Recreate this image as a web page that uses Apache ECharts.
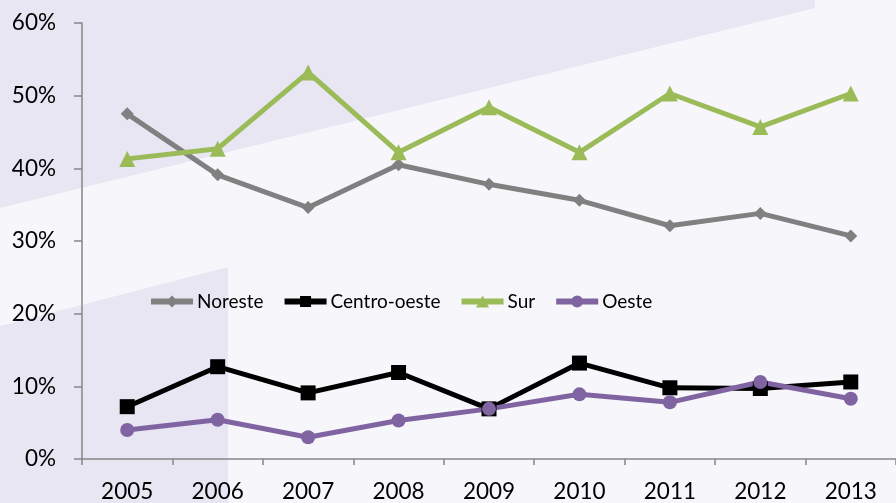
<!DOCTYPE html>
<html>
<head>
<meta charset="utf-8">
<script src="https://cdn.jsdelivr.net/npm/echarts@6/dist/echarts.min.js"></script>
<style>
  html, body { margin: 0; padding: 0; background: #f7f7fb; }
  #chart { width: 896px; height: 503px; }
</style>
</head>
<body>
<div id="chart"></div>
<script>
// datos
var years = ['2005', '2006', '2007', '2008', '2009', '2010', '2011', '2012', '2013']
var noreste = [47.5, 39.1, 34.6, 40.5, 37.8, 35.6, 32.1, 33.8, 30.7]
var centroOeste = [7.2, 12.7, 9.1, 11.9, 6.9, 13.2, 9.8, 9.7, 10.6]
var sur = [41.3, 42.7, 53.2, 42.2, 48.4, 42.2, 50.3, 45.7, 50.3]
var oeste = [4.0, 5.4, 3.0, 5.3, 6.9, 8.9, 7.8, 10.6, 8.3]

var font = 'Lato, "Open Sans", sans-serif'
var chart = echarts.init(document.getElementById('chart'))

// iconos de leyenda: linea gruesa + marcador (42x12)
var bar = 'M0 3 L42 3 L42 9 L0 9 Z '
var icons = {
  diamond: 'path://' + bar + 'M21 0 L27 6 L21 12 L15 6 Z',
  rect: 'path://' + bar + 'M15.5 0.5 L26.5 0.5 L26.5 11.5 L15.5 11.5 Z M0 0 L0 0 M42 12 L42 12',
  triangle: 'path://' + bar + 'M21 0 L27.5 12 L14.5 12 Z',
  circle: 'path://' + bar + 'M27 6 A6 6 0 1 1 15 6 A6 6 0 1 1 27 6 Z'
}

function line(name, data, color, symbol, size) {
  return {
    name: name,
    type: 'line',
    data: data,
    symbol: symbol,
    symbolSize: size,
    showAllSymbol: true,
    lineStyle: { color: color, width: 5 },
    itemStyle: { color: color },
    animation: false
  }
}

chart.setOption({
  backgroundColor: '#f7f7fb',
  textStyle: { fontFamily: font },
  graphic: [
    {
      type: 'polygon', z: -10, silent: true,
      shape: { points: [[0, 0], [815, 0], [815, 8], [0, 208]] },
      style: { fill: '#e8e6f3' }
    },
    {
      type: 'polygon', z: -10, silent: true,
      shape: { points: [[0, 326], [228, 267], [228, 503], [0, 503]] },
      style: { fill: '#e8e6f3' }
    }
  ],
  grid: { left: 82, right: 0, top: 23, bottom: 44 },
  legend: {
    left: 151,
    top: 292,
    padding: 0,
    itemWidth: 42,
    itemHeight: 12,
    itemGap: 21,
    textStyle: { fontFamily: font, fontSize: 19, color: '#000', padding: [0, 0, 0, -1] },
    data: [
      { name: 'Noreste', icon: icons.diamond },
      { name: 'Centro-oeste', icon: icons.rect },
      { name: 'Sur', icon: icons.triangle },
      { name: 'Oeste', icon: icons.circle }
    ]
  },
  xAxis: {
    type: 'category',
    data: years,
    boundaryGap: true,
    axisLine: { lineStyle: { color: '#868686', width: 1.5 } },
    axisTick: { show: true, length: 6, lineStyle: { color: '#868686', width: 1.5 } },
    axisLabel: { fontFamily: font, fontSize: 22.5, color: '#000', margin: 21 }
  },
  yAxis: {
    type: 'value',
    min: 0,
    max: 60,
    interval: 10,
    axisLine: { show: true, lineStyle: { color: '#868686', width: 1.5 } },
    axisTick: { show: true, length: 8, lineStyle: { color: '#868686', width: 1.5 } },
    splitLine: { show: false },
    axisLabel: { fontFamily: font, fontSize: 22.5, color: '#000', margin: 26, formatter: '{value}%' }
  },
  series: [
    line('Noreste', noreste, '#808080', 'diamond', 13),
    line('Centro-oeste', centroOeste, '#000000', 'rect', 15),
    line('Sur', sur, '#9bbb59', 'triangle', 16),
    line('Oeste', oeste, '#8064a2', 'circle', 14)
  ]
})
</script>
</body>
</html>
